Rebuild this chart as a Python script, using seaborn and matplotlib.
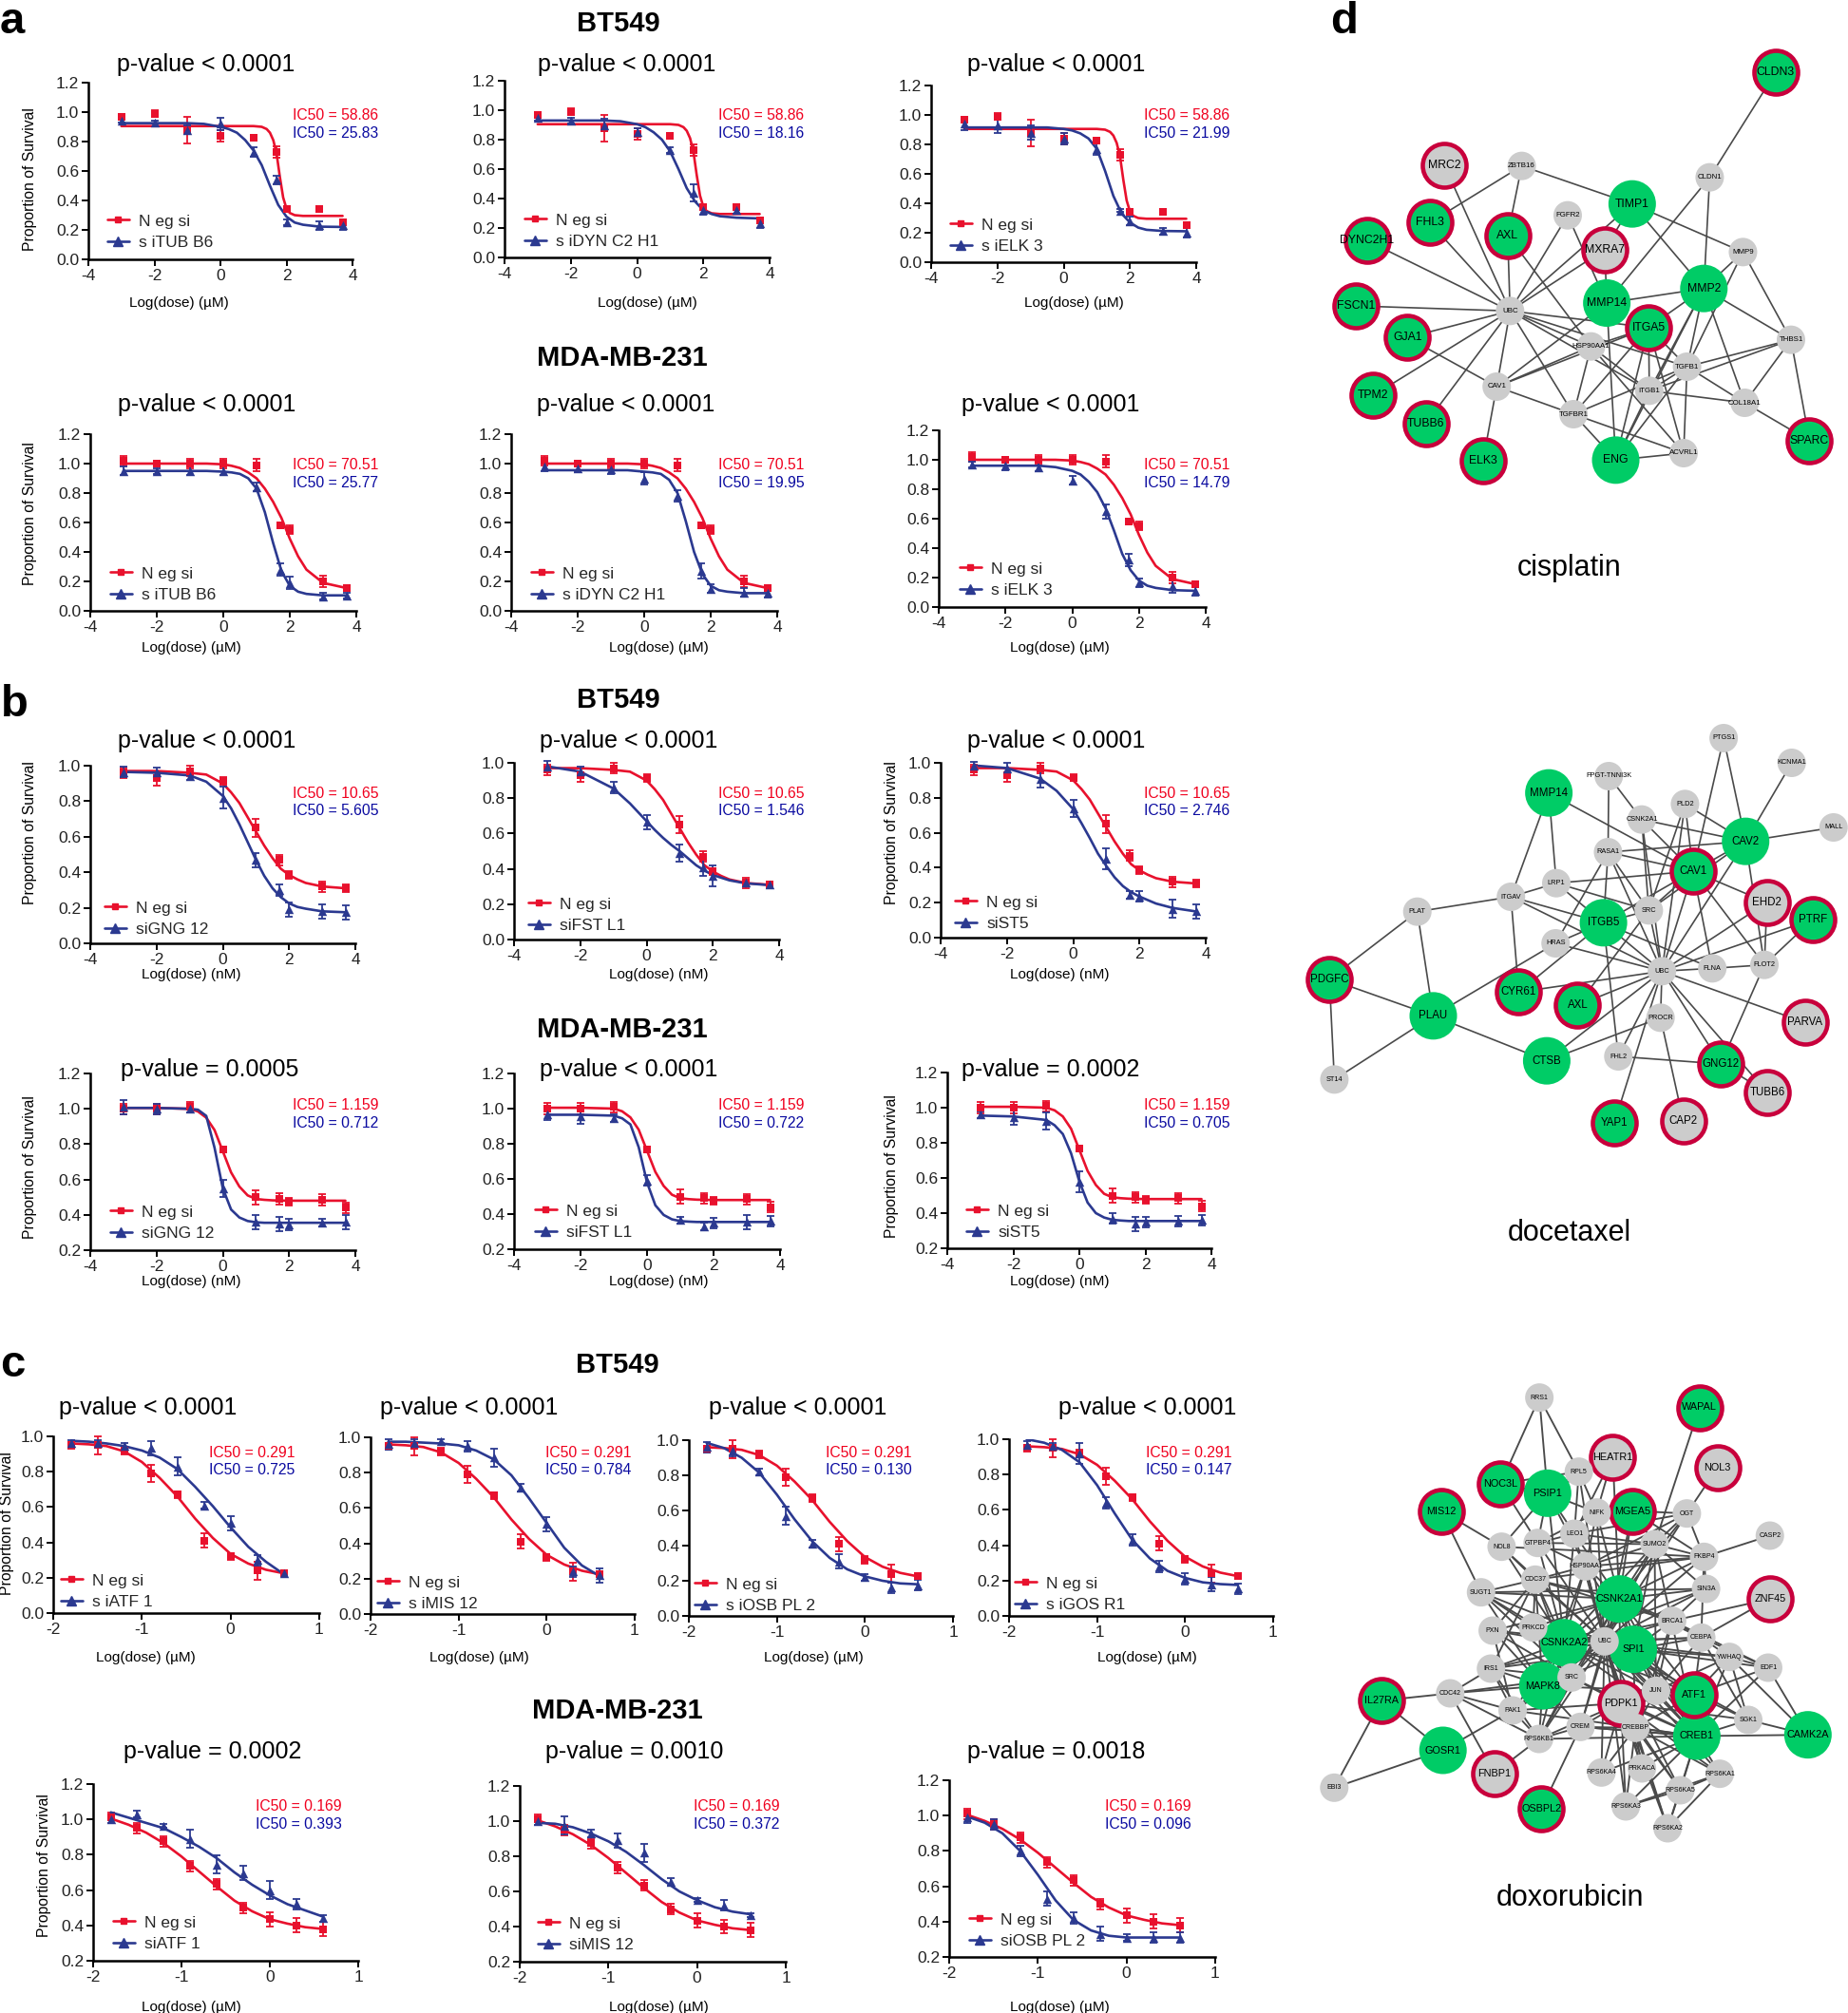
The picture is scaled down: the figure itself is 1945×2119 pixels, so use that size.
import matplotlib
matplotlib.use("Agg")
import matplotlib.pyplot as plt
from matplotlib.lines import Line2D
import seaborn as sns

W, H = 1945, 2119
RED = "#E8112D"
BLUE = "#2B3990"
TXT_RED = "#F0001E"
TXT_BLUE = "#0A0AA0"

# dose grids
dose_um = [-3, -2, -1, 0, 1, 1.7, 2, 3, 3.7]
dose_c = [-1.8, -1.5, -1.2, -0.9, -0.6, -0.3, 0, 0.3, 0.6]
fit_x_steep = [-3, 0, 1, 1.25, 1.4, 1.5, 1.6, 1.7, 1.8, 1.9, 2, 2.1, 2.25, 2.5, 3, 3.7]
fit_x_ab = [-3, -2, -1, -0.5, 0, 0.25, 0.5, 0.75, 1, 1.25, 1.5, 1.75, 2, 2.25, 2.5, 3, 3.7]
fit_x_b2 = [-3, -2, -1, -0.75, -0.5, -0.25, 0, 0.25, 0.5, 0.75, 1, 1.25, 1.5, 2, 3, 3.7]
fit_x_c = [-1.8, -1.6, -1.4, -1.2, -1.0, -0.8, -0.6, -0.4, -0.2, 0, 0.2, 0.4, 0.6]

# negative control, one set per block
neg_a1 = [.97, .99, .88, .84, .825, .73, .34, .34, .25]
neg_a1_err = [.02, .02, .09, .04, .02, .04, .02, .01, .02]
neg_a1_fit = [.905, .905, .905, .90, .885, .86, .81, .72, .56, .42, .345, .315, .30, .295, .295, .295]
neg_a2 = [1.02, 1.0, 1.0, 1.0, .99, .58, .55, .2, .155]
neg_a2_err = [.03, .02, .03, .03, .04, .02, .03, .04, .02]
neg_a2_fit = [1, 1, 1, 1, .995, .985, .97, .94, .90, .83, .74, .63, .49, .37, .28, .19, .155]
neg_b1 = [.96, .93, .97, .915, .65, .47, .385, .32, .31]
neg_b1_err = [.03, .04, .03, .02, .05, .03, .02, .03, .02]
neg_b1_fit = [.97, .97, .96, .95, .90, .85, .79, .71, .63, .55, .48, .42, .385, .36, .34, .32, .31]
neg_b2 = [1.0, 1.0, 1.01, .77, .50, .49, .475, .485, .44]
neg_b2_err = [.03, .03, .03, .01, .04, .03, .02, .03, .03]
neg_b2_fit = [1.005, 1.005, 1.0, .985, .95, .88, .76, .64, .56, .51, .49, .485, .482, .48, .48, .48]
neg_c1 = [.95, .95, .92, .79, .67, .41, .32, .24, .225]
neg_c1_err = [.02, .05, .02, .05, .02, .04, .02, .05, .01]
neg_c1_fit = [.96, .955, .945, .915, .855, .765, .66, .535, .425, .335, .28, .245, .225]
neg_c2 = [1.01, .95, .875, .735, .635, .50, .435, .40, .38]
neg_c2_err = [.03, .03, .03, .03, .03, .03, .04, .04, .04]
neg_c2_fit = [1.005, .97, .925, .865, .79, .705, .62, .54, .48, .435, .41, .39, .38]

# knockdown series
tubb6_bt = [.94, .93, .88, .92, .73, .54, .25, .23, .23]
tubb6_bt_err = [.01, .01, .03, .04, .03, .03, .02, .03, .03]
tubb6_bt_fit = [.925, .925, .925, .92, .90, .885, .86, .81, .74, .64, .50, .37, .29, .25, .235, .222, .22]
dync_bt = [.95, .93, .90, .85, .73, .44, .32, .32, .23]
dync_bt_err = [.02, .02, .04, .03, .02, .06, .03, .02, .03]
dync_bt_fit = [.93, .93, .93, .925, .905, .885, .85, .80, .72, .60, .47, .38, .32, .295, .28, .27, .265]
elk3_bt = [.94, .93, .88, .84, .77, .35, .28, .21, .20]
elk3_bt_err = [.04, .05, .05, .04, .04, .01, .03, .02, .03]
elk3_bt_fit = [.915, .915, .915, .915, .905, .895, .875, .84, .77, .62, .45, .33, .27, .235, .22, .212, .21]
tubb6_mda = [.95, .95, .95, .95, .84, .28, .19, .10, .105]
tubb6_mda_err = [.03, .02, .03, .03, .03, .04, .04, .02, .02]
tubb6_mda_fit = [.95, .95, .95, .95, .945, .94, .93, .90, .83, .67, .46, .27, .17, .13, .115, .105, .105]
dync_mda = [.98, .97, .96, .90, .78, .27, .15, .125, .12]
dync_mda_err = [.03, .03, .03, .04, .04, .05, .03, .03, .03]
dync_mda_fit = [.955, .955, .955, .955, .945, .94, .93, .89, .80, .61, .40, .25, .17, .14, .13, .12, .12]
elk3_mda = [.97, .96, .95, .86, .65, .32, .165, .14, .11]
elk3_mda_err = [.02, .03, .03, .03, .05, .04, .03, .04, .03]
elk3_mda_fit = [.96, .96, .96, .95, .925, .90, .85, .78, .67, .52, .36, .25, .18, .145, .13, .115, .11]
gng_bt = [.965, .96, .94, .82, .47, .30, .19, .18, .175]
gng_bt_err = [.03, .03, .02, .06, .04, .03, .04, .04, .04]
gng_bt_fit = [.965, .96, .945, .91, .83, .76, .67, .57, .47, .38, .31, .26, .225, .205, .195, .18, .175]
fstl_bt = [.98, .95, .86, .665, .49, .41, .36, .32, .31]
fstl_bt_err = [.03, .03, .03, .04, .05, .05, .06, .02, .02]
fstl_bt_fit = [.98, .95, .855, .77, .67, .62, .575, .535, .50, .46, .42, .39, .365, .35, .335, .318, .308]
st5_bt = [.985, .97, .91, .74, .45, .245, .235, .165, .15]
st5_bt_err = [.02, .03, .05, .05, .06, .02, .03, .05, .04]
st5_bt_fit = [.985, .97, .91, .84, .735, .655, .57, .48, .41, .345, .295, .26, .235, .215, .195, .17, .15]
gng_mda = [1.01, 1.0, 1.0, .55, .36, .35, .345, .355, .36]
gng_mda_err = [.04, .03, .02, .05, .04, .04, .03, .02, .04]
gng_mda_fit = [1.005, 1.005, 1.0, .995, .96, .78, .55, .43, .385, .365, .358, .355, .355, .355, .355, .355]
fstl_mda = [.965, .955, .945, .59, .365, .33, .35, .355, .36]
fstl_mda_err = [.03, .04, .02, .03, .02, .02, .03, .04, .03]
fstl_mda_fit = [.965, .965, .96, .945, .91, .78, .58, .45, .395, .37, .36, .357, .355, .355, .355, .355]
st5_mda = [.96, .945, .925, .58, .37, .34, .35, .355, .36]
st5_mda_err = [.02, .04, .05, .06, .03, .04, .03, .03, .03]
st5_mda_fit = [.955, .95, .93, .90, .85, .74, .58, .46, .40, .375, .362, .358, .355, .355, .355, .355]
atf1_bt = [.96, .96, .945, .935, .83, .61, .51, .30, .225]
atf1_bt_err = [.02, .02, .02, .04, .05, .02, .04, .03, .01]
atf1_bt_fit = [.975, .97, .96, .945, .92, .88, .815, .715, .605, .485, .375, .29, .22]
mis12_bt = [.96, .97, .98, .95, .885, .715, .51, .24, .22]
mis12_bt_err = [.03, .02, .01, .03, .05, .02, .04, .03, .04]
mis12_bt_fit = [.975, .975, .97, .965, .955, .925, .875, .785, .655, .515, .375, .275, .215]
osbpl2_bt = [.96, .94, .82, .57, .41, .31, .22, .16, .175]
osbpl2_bt_err = [.03, .03, .02, .05, .02, .04, .02, .03, .03]
osbpl2_bt_fit = [.985, .955, .90, .815, .69, .55, .425, .33, .265, .225, .20, .185, .18]
gosr1_bt = [.97, .96, .92, .64, .43, .28, .21, .18, .155]
gosr1_bt_err = [.02, .02, .06, .03, .03, .03, .03, .04, .03]
gosr1_bt_fit = [1.0, .98, .94, .87, .74, .58, .43, .325, .255, .215, .19, .18, .175]
atf1_mda = [1.0, 1.03, .965, .89, .745, .695, .60, .52, .44]
atf1_mda_err = [.02, .02, .01, .05, .05, .04, .05, .03, .02]
atf1_mda_fit = [1.04, 1.01, .98, .95, .90, .845, .78, .70, .63, .57, .52, .485, .45]
mis12_mda = [1.0, .975, .93, .89, .82, .655, .55, .52, .465]
mis12_mda_err = [.02, .05, .02, .04, .05, .02, .01, .03, .01]
mis12_mda_fit = [.99, .985, .965, .93, .885, .825, .75, .67, .60, .55, .51, .485, .47]
osbpl2_mda = [.99, .95, .80, .53, .42, .33, .31, .31, .31]
osbpl2_mda_err = [.03, .03, .03, .04, .03, .04, .02, .03, .03]
osbpl2_mda_fit = [.995, .96, .90, .80, .665, .52, .41, .35, .32, .31, .31, .31, .31]

# labels
legend_neg = "N eg si"
ic50_a1, ic50_a2, ic50_b1, ic50_b2, ic50_c1, ic50_c2 = "58.86", "70.51", "10.65", "1.159", "0.291", "0.169"

# kind: a = -4..4 / 0..1.2, b = -4..4 / 0..1.0, e = -4..4 / .2..1.2, c = -2..1 / 0..1.0, f = -2..1 / .2..1.2
# box is left, right, top, bottom in pixels; p, ic, xl, yl are pixel positions of the texts
panels = [
    dict(kind="a", box=(93, 371, 87, 273), neg=(neg_a1, neg_a1_err, fit_x_steep, neg_a1_fit), si=(tubb6_bt, tubb6_bt_err, fit_x_ab, tubb6_bt_fit),
         name="s iTUB B6", pv="p-value < 0.0001", ic=(ic50_a1, "25.83"), p=(123, 66), icp=(308, 121), xl=(188, 317), unit="µM", yl=(32, 189), leg=(20, 41)),
    dict(kind="a", box=(531, 810, 85, 271), neg=(neg_a1, neg_a1_err, fit_x_steep, neg_a1_fit), si=(dync_bt, dync_bt_err, fit_x_ab, dync_bt_fit),
         name="s iDYN C2 H1", pv="p-value < 0.0001", ic=(ic50_a1, "18.16"), p=(566, 66), icp=(756, 121), xl=(681, 317), unit="µM", yl=None, leg=(21, 40)),
    dict(kind="a", box=(980, 1259, 90, 276), neg=(neg_a1, neg_a1_err, fit_x_steep, neg_a1_fit), si=(elk3_bt, elk3_bt_err, fit_x_ab, elk3_bt_fit),
         name="s iELK 3", pv="p-value < 0.0001", ic=(ic50_a1, "21.99"), p=(1018, 66), icp=(1204, 121), xl=(1130, 317), unit="µM", yl=None, leg=(20, 40)),
    dict(kind="a", box=(95, 375, 457, 643), neg=(neg_a2, neg_a2_err, fit_x_ab, neg_a2_fit), si=(tubb6_mda, tubb6_mda_err, fit_x_ab, tubb6_mda_fit),
         name="s iTUB B6", pv="p-value < 0.0001", ic=(ic50_a2, "25.77"), p=(124, 423), icp=(308, 489), xl=(201, 681), unit="µM", yl=(32, 541), leg=(21, 40)),
    dict(kind="a", box=(538, 818, 457, 643), neg=(neg_a2, neg_a2_err, fit_x_ab, neg_a2_fit), si=(dync_mda, dync_mda_err, fit_x_ab, dync_mda_fit),
         name="s iDYN C2 H1", pv="p-value < 0.0001", ic=(ic50_a2, "19.95"), p=(565, 423), icp=(756, 489), xl=(693, 681), unit="µM", yl=None, leg=(21, 40)),
    dict(kind="a", box=(988, 1269, 453, 639), neg=(neg_a2, neg_a2_err, fit_x_ab, neg_a2_fit), si=(elk3_mda, elk3_mda_err, fit_x_ab, elk3_mda_fit),
         name="s iELK 3", pv="p-value < 0.0001", ic=(ic50_a2, "14.79"), p=(1012, 423), icp=(1204, 489), xl=(1115, 681), unit="µM", yl=None, leg=(22, 41)),
    dict(kind="b", box=(95, 374, 806, 993), neg=(neg_b1, neg_b1_err, fit_x_ab, neg_b1_fit), si=(gng_bt, gng_bt_err, fit_x_ab, gng_bt_fit),
         name="siGNG 12", pv="p-value < 0.0001", ic=(ic50_b1, "5.605"), p=(124, 778), icp=(308, 834), xl=(201, 1025), unit="nM", yl=(32, 877), leg=(15, 38)),
    dict(kind="b", box=(541, 820, 803, 989), neg=(neg_b1, neg_b1_err, fit_x_ab, neg_b1_fit), si=(fstl_bt, fstl_bt_err, fit_x_ab, fstl_bt_fit),
         name="siFST L1", pv="p-value < 0.0001", ic=(ic50_b1, "1.546"), p=(568, 778), icp=(756, 834), xl=(693, 1025), unit="nM", yl=None, leg=(15, 38)),
    dict(kind="b", box=(990, 1269, 803, 987), neg=(neg_b1, neg_b1_err, fit_x_ab, neg_b1_fit), si=(st5_bt, st5_bt_err, fit_x_ab, st5_bt_fit),
         name="siST5", pv="p-value < 0.0001", ic=(ic50_b1, "2.746"), p=(1018, 778), icp=(1204, 834), xl=(1115, 1025), unit="nM", yl=(939, 877), leg=(15, 38)),
    dict(kind="e", box=(95, 374, 1130, 1316), neg=(neg_b2, neg_b2_err, fit_x_b2, neg_b2_fit), si=(gng_mda, gng_mda_err, fit_x_b2, gng_mda_fit),
         name="siGNG 12", pv="p-value = 0.0005", ic=(ic50_b2, "0.712"), p=(127, 1123), icp=(308, 1163), xl=(201, 1348), unit="nM", yl=(32, 1229), leg=(21, 41)),
    dict(kind="e", box=(541, 821, 1130, 1315), neg=(neg_b2, neg_b2_err, fit_x_b2, neg_b2_fit), si=(fstl_mda, fstl_mda_err, fit_x_b2, fstl_mda_fit),
         name="siFST L1", pv="p-value < 0.0001", ic=(ic50_b2, "0.722"), p=(568, 1123), icp=(756, 1163), xl=(693, 1348), unit="nM", yl=None, leg=(22, 41)),
    dict(kind="e", box=(997, 1275, 1129, 1314), neg=(neg_b2, neg_b2_err, fit_x_b2, neg_b2_fit), si=(st5_mda, st5_mda_err, fit_x_b2, st5_mda_fit),
         name="siST5", pv="p-value = 0.0002", ic=(ic50_b2, "0.705"), p=(1012, 1123), icp=(1204, 1163), xl=(1115, 1348), unit="nM", yl=(939, 1228), leg=(20, 40)),
    dict(kind="c", box=(56, 336, 1512, 1698), neg=(neg_c1, neg_c1_err, fit_x_c, neg_c1_fit), si=(atf1_bt, atf1_bt_err, fit_x_c, atf1_bt_fit),
         name="s iATF 1", pv="p-value < 0.0001", ic=(ic50_c1, "0.725"), p=(62, 1479), icp=(220, 1528), xl=(153, 1744), unit="µM", yl=(8, 1604), leg=(8, 35)),
    dict(kind="c", box=(390, 668, 1513, 1699), neg=(neg_c1, neg_c1_err, fit_x_c, neg_c1_fit), si=(mis12_bt, mis12_bt_err, fit_x_c, mis12_bt_fit),
         name="s iMIS 12", pv="p-value < 0.0001", ic=(ic50_c1, "0.784"), p=(400, 1479), icp=(574, 1528), xl=(504, 1744), unit="µM", yl=None, leg=(7, 34)),
    dict(kind="c", box=(725, 1003, 1516, 1701), neg=(neg_c1, neg_c1_err, fit_x_c, neg_c1_fit), si=(osbpl2_bt, osbpl2_bt_err, fit_x_c, osbpl2_bt_fit),
         name="s iOSB PL 2", pv="p-value < 0.0001", ic=(ic50_c1, "0.130"), p=(746, 1479), icp=(869, 1528), xl=(856, 1744), unit="µM", yl=None, leg=(6, 34)),
    dict(kind="c", box=(1062, 1340, 1515, 1701), neg=(neg_c1, neg_c1_err, fit_x_c, neg_c1_fit), si=(gosr1_bt, gosr1_bt_err, fit_x_c, gosr1_bt_fit),
         name="s iGOS R1", pv="p-value < 0.0001", ic=(ic50_c1, "0.147"), p=(1114, 1479), icp=(1206, 1528), xl=(1207, 1744), unit="µM", yl=None, leg=(6, 35)),
    dict(kind="f", box=(98, 377, 1878, 2064), neg=(neg_c2, neg_c2_err, fit_x_c, neg_c2_fit), si=(atf1_mda, atf1_mda_err, fit_x_c, atf1_mda_fit),
         name="siATF 1", pv="p-value = 0.0002", ic=(ic50_c2, "0.393"), p=(130, 1842), icp=(269, 1901), xl=(201, 2111), unit="µM", yl=(47, 1964), leg=(21, 41)),
    dict(kind="f", box=(547, 827, 1880, 2065), neg=(neg_c2, neg_c2_err, fit_x_c, neg_c2_fit), si=(mis12_mda, mis12_mda_err, fit_x_c, mis12_mda_fit),
         name="siMIS 12", pv="p-value = 0.0010", ic=(ic50_c2, "0.372"), p=(574, 1842), icp=(730, 1901), xl=(693, 2111), unit="µM", yl=None, leg=(19, 41)),
    dict(kind="f", box=(999, 1279, 1874, 2060), neg=(neg_c2, neg_c2_err, fit_x_c, neg_c2_fit), si=(osbpl2_mda, osbpl2_mda_err, fit_x_c, osbpl2_mda_fit),
         name="siOSB PL 2", pv="p-value = 0.0018", ic=(ic50_c2, "0.096"), p=(1018, 1842), icp=(1163, 1901), xl=(1115, 2111), unit="µM", yl=None, leg=(21, 40)),
]

axis_kinds = {
    "a": ([-4, -2, 0, 2, 4], (-4, 4), [0, .2, .4, .6, .8, 1.0, 1.2], (0, 1.2), dose_um),
    "b": ([-4, -2, 0, 2, 4], (-4, 4), [0, .2, .4, .6, .8, 1.0], (0, 1.0), dose_um),
    "e": ([-4, -2, 0, 2, 4], (-4, 4), [.2, .4, .6, .8, 1.0, 1.2], (.2, 1.2), dose_um),
    "c": ([-2, -1, 0, 1], (-2, 1), [0, .2, .4, .6, .8, 1.0], (0, 1.0), dose_c),
    "f": ([-2, -1, 0, 1], (-2, 1), [.2, .4, .6, .8, 1.0, 1.2], (.2, 1.2), dose_c),
}

net1_nodes = [
    ("CLDN3", "gr", 1358, 133), ("MRC2", "r", 392, 425), ("ZBTB16", "s", 618, 428), ("CLDN1", "s", 1166, 464),
    ("TIMP1", "g", 940, 548), ("FHL3", "gr", 350, 607), ("FGFR2", "s", 752, 584), ("AXL", "gr", 577, 647),
    ("DYNC2H1", "gr", 167, 664), ("MMP9", "s", 1263, 700), ("MMP2", "g", 1149, 815), ("MMP14", "g", 866, 861),
    ("MXRA7", "r", 860, 692), ("FSCN1", "gr", 135, 870), ("UBC", "s", 584, 886), ("ITGA5", "gr", 988, 938),
    ("GJA1", "gr", 285, 970), ("HSP90AA1", "s", 820, 998), ("THBS1", "s", 1403, 977), ("TGFB1", "s", 1100, 1062),
    ("CAV1", "s", 545, 1125), ("ITGB1", "s", 990, 1138), ("TPM2", "gr", 185, 1153), ("COL18A1", "s", 1268, 1176),
    ("TGFBR1", "s", 769, 1212), ("TUBB6", "gr", 338, 1242), ("SPARC", "gr", 1457, 1296), ("ACVRL1", "s", 1090, 1335),
    ("ENG", "g", 892, 1357), ("ELK3", "gr", 505, 1360),
]
net1_edges = {
    "UBC": ["MRC2", "FHL3", "AXL", "DYNC2H1", "FSCN1", "GJA1", "TPM2", "TUBB6", "CAV1", "FGFR2", "MXRA7", "TIMP1", "ITGA5", "HSP90AA1", "TGFB1", "ITGB1", "TGFBR1"],
    "CLDN1": ["CLDN3", "MMP2", "MMP14"],
    "ZBTB16": ["FHL3", "AXL", "TIMP1"],
    "TIMP1": ["MMP2", "MMP9", "MXRA7"],
    "MMP9": ["MMP2", "THBS1", "TGFB1"],
    "MMP2": ["MMP14", "THBS1", "ITGA5", "TGFB1", "ITGB1", "COL18A1", "ENG"],
    "MMP14": ["FGFR2", "CAV1", "ENG", "MXRA7"],
    "ITGA5": ["CAV1", "TGFBR1", "ENG", "ITGB1", "TGFB1", "ACVRL1", "HSP90AA1"],
    "CAV1": ["GJA1", "HSP90AA1", "TGFBR1", "ELK3"],
    "HSP90AA1": ["AXL", "TGFBR1", "ACVRL1", "ITGB1"],
    "THBS1": ["TGFB1", "COL18A1", "SPARC", "ITGB1"],
    "TGFB1": ["COL18A1", "ITGB1", "TGFBR1", "ACVRL1", "ENG"],
    "ITGB1": ["COL18A1", "ENG"],
    "TGFBR1": ["ENG", "ACVRL1"],
    "ACVRL1": ["ENG"],
    "COL18A1": ["SPARC"],
}

# network d, docetaxel
net2_nodes = [
    ("PTGS1", "s", 1217, 18), ("KCNMA1", "s", 1409, 96), ("FPGT-TNNI3K", "s", 893, 138), ("MMP14", "g", 724, 191),
    ("PLD2", "s", 1108, 226), ("CSNK2A1", "s", 986, 275), ("MALL", "s", 1527, 300), ("CAV2", "g", 1279, 344),
    ("RASA1", "s", 891, 378), ("CAV1", "gr", 1131, 438), ("LRP1", "s", 745, 476), ("ITGAV", "s", 617, 519),
    ("EHD2", "r", 1339, 537), ("SRC", "s", 1006, 562), ("PLAT", "s", 353, 566), ("PTRF", "gr", 1468, 591),
    ("ITGB5", "g", 878, 601), ("HRAS", "s", 743, 666), ("FLOT2", "s", 1332, 734), ("FLNA", "s", 1185, 745),
    ("UBC", "s", 1043, 754), ("PDGFC", "gr", 105, 779), ("CYR61", "gr", 639, 820), ("AXL", "gr", 805, 862),
    ("PLAU", "g", 398, 895), ("PROCR", "s", 1039, 901), ("PARVA", "r", 1446, 916), ("FHL2", "s", 920, 1023),
    ("CTSB", "g", 718, 1037), ("GNG12", "gr", 1209, 1047), ("ST14", "s", 119, 1096), ("TUBB6", "r", 1340, 1137),
    ("CAP2", "r", 1103, 1226), ("YAP1", "gr", 909, 1232),
]
net2_edges = {
    "UBC": ["PLD2", "CSNK2A1", "RASA1", "CAV2", "CAV1", "ITGAV", "EHD2", "PTRF", "SRC", "ITGB5", "HRAS", "FLNA", "CYR61", "AXL", "CTSB", "PROCR", "FHL2", "YAP1", "GNG12", "PARVA", "TUBB6"],
    "CAV2": ["PTGS1", "KCNMA1", "PLD2", "CSNK2A1", "MALL", "RASA1", "CAV1", "SRC", "FLOT2"],
    "CAV1": ["PTGS1", "MMP14", "PLD2", "CSNK2A1", "RASA1", "LRP1", "EHD2", "SRC", "FLNA", "FLOT2", "ITGB5"],
    "RASA1": ["FPGT-TNNI3K", "ITGB5", "SRC", "HRAS"],
    "CSNK2A1": ["FPGT-TNNI3K", "SRC"],
    "SRC": ["PLD2", "LRP1", "ITGB5", "AXL"],
    "ITGAV": ["MMP14", "LRP1", "PLAT", "ITGB5", "CYR61"],
    "LRP1": ["MMP14", "ITGB5"],
    "PLAT": ["PDGFC", "PLAU"],
    "FLOT2": ["PTRF", "EHD2", "FLNA", "GNG12"],
    "ITGB5": ["HRAS", "FLNA", "CYR61", "FHL2"],
    "HRAS": ["PLAU"],
    "PLAU": ["PDGFC", "ST14", "CTSB"],
    "ST14": ["PDGFC"],
    "PROCR": ["CTSB", "CAP2"],
    "GNG12": ["FHL2", "TUBB6"],
}

# network d, doxorubicin
net3_nodes = [
    ("RRS1", "s", 668, 62), ("WAPAL", "gr", 1135, 93), ("HEATR1", "r", 882, 250), ("NOL3", "r", 1187, 284),
    ("RPL5", "s", 783, 296), ("NOC3L", "gr", 555, 334), ("PSIP1", "g", 692, 364), ("MIS12", "gr", 382, 420),
    ("MGEA5", "gr", 940, 420), ("NIFK", "s", 835, 425), ("OGT", "s", 1098, 428), ("LEO1", "s", 770, 492),
    ("CASP2", "s", 1340, 498), ("SUMO2", "s", 1004, 525), ("GTPBP4", "s", 663, 521), ("NOL8", "s", 558, 533),
    ("FKBP4", "s", 1148, 565), ("HSP90AA1", "s", 803, 595), ("CDC37", "s", 656, 637), ("SIN3A", "s", 1154, 666),
    ("SUGT1", "s", 498, 677), ("CSNK2A1", "g", 901, 698), ("ZNF45", "r", 1340, 698), ("BRCA1", "s", 1055, 767),
    ("PRKCD", "s", 650, 788), ("PXN", "s", 532, 798), ("CEBPA", "s", 1140, 820), ("CSNK2A2", "g", 740, 836),
    ("SPI1", "g", 942, 857), ("UBC", "s", 858, 832), ("YWHAQ", "s", 1222, 881), ("EDF1", "s", 1335, 915),
    ("IRS1", "s", 527, 918), ("MAPK8", "g", 678, 972), ("SRC", "s", 762, 946), ("JUN", "s", 1008, 988),
    ("ATF1", "gr", 1119, 1000), ("CDC42", "s", 408, 996), ("IL27RA", "gr", 207, 1019), ("PDPK1", "r", 906, 1027),
    ("PAK1", "s", 590, 1050), ("SGK1", "s", 1277, 1080), ("CREM", "s", 788, 1102), ("CREBBP", "s", 948, 1105),
    ("CAMK2A", "g", 1451, 1127), ("CREB1", "g", 1127, 1131), ("RPS6KB1", "s", 667, 1140), ("GOSR1", "g", 387, 1176),
    ("PRKACA", "s", 967, 1233), ("FNBP1", "r", 537, 1248), ("RPS6KA4", "s", 849, 1246), ("RPS6KA1", "s", 1194, 1250),
    ("RPS6KA5", "s", 1079, 1302), ("EBI3", "s", 70, 1294), ("RPS6KA3", "s", 920, 1353), ("OSBPL2", "gr", 674, 1360),
    ("RPS6KA2", "s", 1042, 1422),
]
net3_edges = {
    "UBC": ["CSNK2A1", "CSNK2A2", "SPI1", "SRC", "MAPK8", "PDPK1", "JUN", "ATF1", "CREB1", "CREBBP", "CREM", "BRCA1", "CEBPA", "SUMO2", "HSP90AA1", "CDC37", "PRKCD", "PXN", "IRS1", "PAK1", "SUGT1", "GTPBP4", "NOL8", "LEO1", "NIFK", "MGEA5", "RPL5", "YWHAQ", "FKBP4", "SIN3A", "RPS6KA1", "RPS6KA2", "RPS6KA3", "RPS6KA4", "RPS6KA5", "PRKACA", "RPS6KB1", "SGK1", "OGT"],
    "CSNK2A1": ["CSNK2A2", "SPI1", "SRC", "MAPK8", "JUN", "ATF1", "CREB1", "BRCA1", "CEBPA", "SUMO2", "HSP90AA1", "CDC37", "PXN", "PRKCD", "SUGT1", "OGT", "FKBP4", "SIN3A", "MGEA5", "NIFK", "LEO1", "PDPK1", "CREM", "RPS6KB1", "HEATR1"],
    "CSNK2A2": ["SPI1", "SRC", "MAPK8", "JUN", "ATF1", "CREB1", "CEBPA", "BRCA1", "CDC37", "GTPBP4", "NOL8", "SUGT1", "RPS6KB1", "PAK1", "IRS1", "PXN", "HSP90AA1", "SUMO2", "SIN3A", "LEO1", "PSIP1"],
    "SPI1": ["JUN", "ATF1", "CREB1", "CREBBP", "CEBPA", "BRCA1", "SUMO2", "PRKCD", "MAPK8", "YWHAQ", "EDF1", "IRS1"],
    "SRC": ["PXN", "IRS1", "PAK1", "PRKCD", "CDC42", "CREB1", "PDPK1", "RPS6KB1", "CDC37", "SUGT1"],
    "CREB1": ["CREBBP", "JUN", "ATF1", "CREM", "PRKACA", "RPS6KA1", "RPS6KA2", "RPS6KA3", "RPS6KA4", "RPS6KA5", "YWHAQ", "SGK1", "EDF1", "PDPK1", "CAMK2A", "RPS6KB1"],
    "CREBBP": ["JUN", "ATF1", "CREM", "PRKACA", "RPS6KA1", "RPS6KA2", "RPS6KA3", "RPS6KA4", "RPS6KA5", "BRCA1"],
    "PDPK1": ["PAK1", "RPS6KB1", "SGK1", "RPS6KA1", "RPS6KA2", "RPS6KA3", "PRKACA", "RPS6KA4", "RPS6KA5", "CREM"],
    "ATF1": ["EDF1", "YWHAQ", "SGK1", "CEBPA", "JUN"],
    "JUN": ["BRCA1", "CEBPA", "SUMO2", "YWHAQ"],
    "RRS1": ["NOC3L", "PSIP1", "RPL5"],
    "RPL5": ["HEATR1", "NOC3L", "PSIP1", "NIFK", "LEO1"],
    "HEATR1": ["PSIP1", "NIFK", "LEO1"],
    "GTPBP4": ["NOC3L", "PSIP1", "LEO1", "NIFK", "SUMO2", "HSP90AA1"],
    "PSIP1": ["NOC3L", "NIFK", "NOL8", "LEO1", "HSP90AA1"],
    "OGT": ["NOL3", "MGEA5", "SUMO2", "FKBP4", "HSP90AA1", "LEO1"],
    "SUMO2": ["WAPAL", "MGEA5", "FKBP4", "SIN3A", "HSP90AA1", "LEO1", "CREB1"],
    "FKBP4": ["CASP2", "MGEA5", "HSP90AA1", "SIN3A", "CDC37", "CEBPA"],
    "NOL8": ["MIS12", "CDC37", "FKBP4"],
    "SUGT1": ["MIS12", "CDC37", "SIN3A", "PRKCD", "MAPK8"],
    "CDC37": ["MAPK8", "PRKCD", "IRS1", "PXN", "BRCA1"],
    "HSP90AA1": ["NIFK", "CDC37", "PDPK1", "CREB1", "MAPK8"],
    "BRCA1": ["ZNF45", "CEBPA", "EDF1", "SIN3A"],
    "CEBPA": ["ZNF45", "YWHAQ", "EDF1", "SGK1"],
    "YWHAQ": ["EDF1", "CAMK2A", "SGK1"],
    "CAMK2A": ["SGK1", "EDF1"],
    "IL27RA": ["CDC42", "GOSR1", "EBI3"],
    "GOSR1": ["EBI3", "PAK1"],
    "CDC42": ["IRS1", "MAPK8", "PAK1", "FNBP1", "RPS6KB1"],
    "PAK1": ["IRS1", "PXN", "MAPK8", "RPS6KB1", "CREB1"],
    "RPS6KB1": ["FNBP1", "CREM", "MAPK8", "IRS1"],
    "CREM": ["OSBPL2", "CREB1"],
    "MAPK8": ["IRS1", "PXN", "JUN", "CREM"],
    "RPS6KA3": ["RPS6KA5", "RPS6KA1"],
    "RPS6KA2": ["RPS6KA1", "RPS6KA5"],
    "RPS6KA5": ["RPS6KA1"],
}

# nodes, edges, crop origin x y, crop x scale, big and small label size, edge width
net_sets = [
    (net1_nodes, net1_edges, 1378.5, 32, 2.77, 8.8, 5.7, 1.2),
    (net2_nodes, net2_edges, 1360, 771, 2.68, 8.3, 5.3, 1.2),
    (net3_nodes, net3_edges, 1379, 1450.5, 2.77, 7.8, 5.0, 1.35),
]
net_names = [("cisplatin", 598), ("docetaxel", 1298), ("doxorubicin", 1998)]
block_titles = [("BT549", 651, 25), ("MDA-MB-231", 655, 377), ("BT549", 651, 737), ("MDA-MB-231", 655, 1084), ("BT549", 650, 1437), ("MDA-MB-231", 650, 1801)]
panel_letters = [("a", 0, 35), ("b", 1, 754), ("c", 0, 1449), ("d", 1400, 35)]

sns.set_theme(style="white")
plt.rcParams["font.family"] = ["Liberation Sans", "DejaVu Sans"]
fig = plt.figure(figsize=(W / 100, H / 100), dpi=100)


def put(text, x, y, **kw):
    kw.setdefault("va", "center")
    fig.text(x / W, 1 - y / H, text, **kw)


def draw_panel(p):
    left, right, top, bottom = p["box"]
    ax = fig.add_axes([left / W, 1 - bottom / H, (right - left) / W, (bottom - top) / H])
    xt, xl, yt, yl, dose = axis_kinds[p["kind"]]
    for (vals, err, fx, fy), col, mk, ms in [(p["neg"], RED, "s", 30), (p["si"], BLUE, "^", 46)]:
        sns.lineplot(x=fx, y=fy, color=col, linewidth=1.9, errorbar=None, ax=ax, zorder=3)
        ax.errorbar(dose, vals, yerr=err, fmt="none", ecolor=col, elinewidth=1.3, capsize=2.6, capthick=1.3, clip_on=False, zorder=3)
        sns.scatterplot(x=dose, y=vals, color=col, marker=mk, s=ms, linewidth=0, ax=ax, clip_on=False, zorder=4)
    ax.set_xlim(*xl)
    ax.set_ylim(*yl)
    ax.set_xticks(xt)
    ax.set_xticklabels([str(v) for v in xt])
    ax.set_yticks(yt)
    ax.set_yticklabels(["%.1f" % v for v in yt])
    ax.tick_params(axis="both", labelsize=12.5, length=5, width=1.4, color="black", labelcolor="#222222", pad=2, bottom=True, left=True)
    ax.patch.set_alpha(0)
    ax.grid(False)
    for side in ["top", "right"]:
        ax.spines[side].set_visible(False)
    for side in ["left", "bottom"]:
        ax.spines[side].set_linewidth(1.8)
        ax.spines[side].set_color("black")
    handles = [
        Line2D([], [], color=RED, lw=1.9, marker="s", ms=5),
        Line2D([], [], color=BLUE, lw=1.9, marker="^", ms=6.5),
    ]
    dx, dy = p["leg"]
    w, h = right - left, bottom - top
    ax.legend(handles, [legend_neg, p["name"]], loc="lower left", bbox_to_anchor=(dx / w, (dy - 22 - 9) / h),
              frameon=False, fontsize=12.5, borderpad=0, borderaxespad=0, handlelength=1.3, handletextpad=0.6, labelspacing=0.42)
    put(p["pv"], p["p"][0], p["p"][1] + 2.5, fontsize=18, color="black", ha="left")
    put("IC50 = " + p["ic"][0], p["icp"][0], p["icp"][1] + 1, fontsize=11.3, color=TXT_RED, ha="left")
    put("IC50 = " + p["ic"][1], p["icp"][0], p["icp"][1] + 19.5, fontsize=11.3, color=TXT_BLUE, ha="left")
    put("Log(dose) (%s)" % p["unit"], p["xl"][0], p["xl"][1] + 1.5, fontsize=11, color="black", ha="center")
    if p["yl"] is not None:
        put("Proportion of Survival", p["yl"][0], p["yl"][1], fontsize=11.3, color="black", ha="center", rotation=90)


for p in panels:
    draw_panel(p)

# pixel axes for the networks
net_ax = fig.add_axes([0, 0, 1, 1], zorder=-1)

node_style = {
    "g": ("#00CC66", 50, None),
    "gr": ("#00CC66", 46, "#C8003C"),
    "r": ("#CCCCCC", 46, "#C8003C"),
    "s": ("#CCCCCC", 30, None),
}

for nodes, edges, ox, oy, sx, big, small, edge_w in net_sets:
    pos = {}
    for name, kind, px, py in nodes:
        pos[name] = (ox + px / sx, oy + py / 3)
    for a, others in edges.items():
        for b in others:
            net_ax.plot([pos[a][0], pos[b][0]], [pos[a][1], pos[b][1]], color="#4A4A4A", lw=edge_w, zorder=1)
    for kind, (fill, dia, ring) in node_style.items():
        xs = [pos[n[0]][0] for n in nodes if n[1] == kind]
        ys = [pos[n[0]][1] for n in nodes if n[1] == kind]
        sns.scatterplot(x=xs, y=ys, s=(dia * 0.72) ** 2, color=fill, edgecolor=ring if ring else "none",
                        linewidth=3.3 if ring else 0, ax=net_ax, zorder=2, clip_on=False)
    for name, kind, px, py in nodes:
        net_ax.text(pos[name][0], pos[name][1], name, fontsize=small if kind == "s" else big, ha="center", va="center", color="black", zorder=3)
net_ax.set_xlim(0, W)
net_ax.set_ylim(H, 0)
net_ax.axis("off")

for name, y in net_names:
    put(name, 1652, y, fontsize=22, color="black", ha="center")
for name, x, y in block_titles:
    put(name, x, y, fontsize=21, fontweight="bold", color="black", ha="center")
for name, x, y in panel_letters:
    put(name, x, y, fontsize=34, fontweight="bold", color="black", ha="left", va="baseline")

fig.savefig("out.png", dpi=100)
